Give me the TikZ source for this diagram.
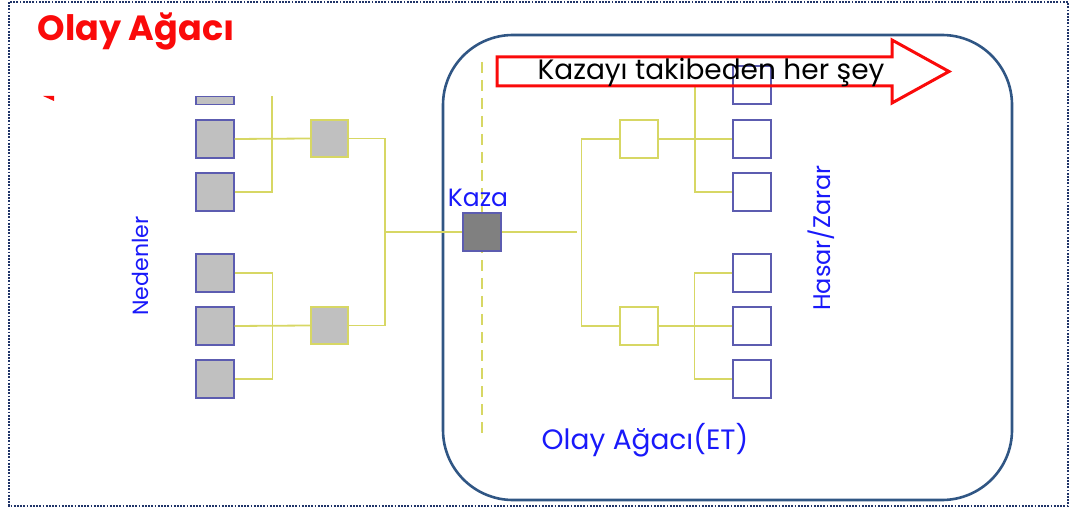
\documentclass[tikz,border=0pt]{standalone}
\usepackage{fontspec}
\setmainfont{Poppins}
\definecolor{boxblue}{RGB}{92,92,176}
\definecolor{lineyellow}{RGB}{215,215,100}
\definecolor{textblue}{RGB}{25,25,250}
\definecolor{frameblue}{RGB}{48,86,132}
\definecolor{dotnavy}{RGB}{32,52,104}
\definecolor{causegray}{RGB}{192,192,192}
\definecolor{kazagray}{RGB}{128,128,128}
\definecolor{arrowred}{RGB}{250,10,10}
\begin{document}
\begin{tikzpicture}[x=1pt,y=-1pt,
  causebox/.style={rectangle,draw=boxblue,fill=causegray,line width=1.6pt,minimum size=37.5pt,inner sep=0pt},
  midbox/.style={rectangle,draw=lineyellow,fill=causegray,line width=1.6pt,minimum size=37.5pt,inner sep=0pt},
  evtbox/.style={rectangle,draw=lineyellow,fill=white,line width=1.6pt,minimum size=37.5pt,inner sep=0pt},
  dmgbox/.style={rectangle,draw=boxblue,fill=white,line width=1.6pt,minimum size=37.5pt,inner sep=0pt},
  kazabox/.style={rectangle,draw=boxblue,fill=kazagray,line width=1.6pt,minimum size=37.5pt,inner sep=0pt},
  link/.style={draw=lineyellow,line width=1.8pt},
  bluetext/.style={text=textblue,inner sep=0pt}]
\useasboundingbox (0,0) rectangle (1070,510);
% outer dotted border
\draw[dotnavy,line width=1.8pt,dash pattern=on 1.8pt off 1.4pt] (9,2) rectangle (1068,506);
% title
\node[text=arrowred,font=\bfseries\fontsize{35}{40}\selectfont,inner sep=0pt] (title) at (136,31) {Olay Ağacı};
\fill[arrowred] (43,96) -- (54,96) -- (54,101) -- cycle;
% frame
\draw[frameblue,line width=2.6pt,rounded corners=70pt] (443,35) rectangle (1012,500);
% dashed accident line
\draw[lineyellow,line width=1.6pt,dash pattern=on 11pt off 7pt] (482,62) -- (482,440);
% causes
\node[rectangle,draw=boxblue,fill=causegray,line width=1.6pt,minimum width=37.5pt,minimum height=8pt,inner sep=0pt] (c0) at (215,100.5) {};
\node[causebox] (c1) at (215,139) {};
\node[causebox] (c2) at (215,192) {};
\node[causebox] (c3) at (215,273) {};
\node[causebox] (c4) at (215,326) {};
\node[causebox] (c5) at (215,379) {};
\node[midbox] (m1) at (329.5,138.5) {};
\node[midbox] (m2) at (329.5,325.5) {};
\coordinate (cut1) at (272,96);
\coordinate (jl) at (385,232);
\draw[link] (c1.east) -- (m1.west);
\draw[link] (c2.east) -| (cut1);
\draw[link] (c4.east) -- (m2.west);
\draw[link] (c3.east) -- ++(38,0) |- (c5.east);
\draw[link] (m1.east) -- ++(36,0) |- (m2.east);
% kaza
\node[kazabox] (kaza) at (482,232) {};
\node[bluetext,font=\fontsize{25}{30}\selectfont] (kazalbl) at (478,198) {Kaza};
\coordinate (jr) at (577,232);
\draw[link] (jl) -- (kaza.west);
\draw[link] (kaza.east) -- (jr);
% events
\node[evtbox] (e1) at (639,139) {};
\node[evtbox] (e2) at (639,326) {};
\draw[link] (e1.west) -- ++(-38,0) |- (e2.west);
% damages
\node[dmgbox] (d0) at (752,85) {};
\node[dmgbox] (d1) at (752,139) {};
\node[dmgbox] (d2) at (752,192) {};
\node[dmgbox] (d3) at (752,273) {};
\node[dmgbox] (d4) at (752,326) {};
\node[dmgbox] (d5) at (752,379) {};
\coordinate (tr) at (695,85);
\draw[link] (e1.east) -- (d1.west);
\draw[link] (tr) |- (d2.west);
\draw[link] (e2.east) -- (d4.west);
\draw[link] (d3.west) -- ++(-38,0) |- (d5.west);
% arrow
\draw[arrowred,line width=3pt,line join=miter] (497,57) -- (892,57) -- (892,40) -- (949,71.5) -- (892,103) -- (892,86) -- (497,86) -- cycle;
\node[text=black,font=\fontsize{28}{32}\selectfont,inner sep=0pt] (arrowtxt) at (711,72) {Kazayı takibeden her şey};
% labels
\node[bluetext,font=\fontsize{22}{26}\selectfont,rotate=90] (neden) at (140,266) {Nedenler};
\node[bluetext,font=\fontsize{24}{28}\selectfont,rotate=90] (hasar) at (821,238) {Hasar/Zarar};
\node[bluetext,font=\fontsize{28}{32}\selectfont] (et) at (645,440) {Olay Ağacı(ET)};
\end{tikzpicture}
\end{document}
